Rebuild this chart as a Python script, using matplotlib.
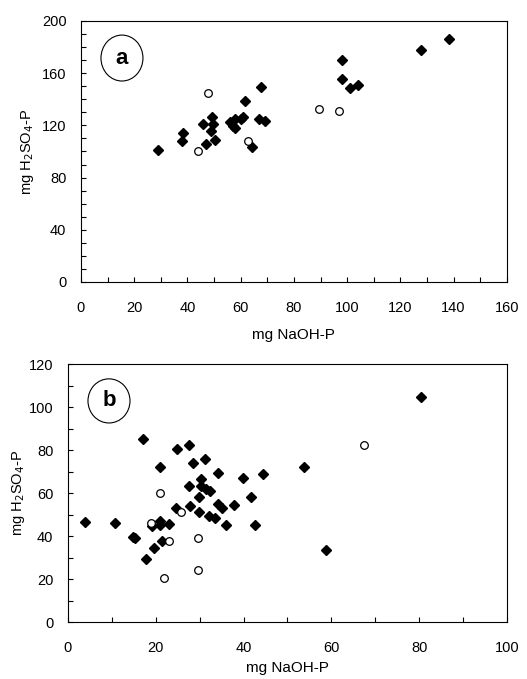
import matplotlib
matplotlib.use("Agg")
import matplotlib.pyplot as plt
from matplotlib.patches import Ellipse
from matplotlib.ticker import MultipleLocator

plt.rcParams['font.family'] = ['Liberation Sans', 'DejaVu Sans']

# panel a - NaOH-P vs H2SO4-P
a_fill_x = [29.0, 38.3, 37.9, 45.8, 46.8, 49.3, 49.5, 48.9, 50.5, 56.0, 57.0, 57.8,
            58.0, 60.0, 61.0, 61.6, 67.7, 66.9, 69.0, 64.1,
            98.1, 98.1, 101.1, 103.9, 127.7, 138.2]
a_fill_y = [101.4, 114.4, 107.8, 120.8, 105.7, 126.2, 120.8, 115.5, 108.8, 122.4, 119.8, 118.0,
            124.7, 125.2, 126.2, 138.7, 149.4, 125.2, 123.6, 103.2,
            170.1, 155.6, 148.9, 151.0, 177.5, 186.2]
a_open_x = [47.7, 43.9, 62.6, 89.5, 97.0]
a_open_y = [144.8, 100.4, 108.0, 132.3, 131.3]

# panel b
b_fill_x = [3.9, 10.8, 14.7, 15.3, 17.2, 17.7, 19.5, 19.1, 21.0, 21.0, 21.0, 21.5, 22.9,
            24.7, 24.8, 27.5, 27.5, 27.8, 28.4, 29.8, 29.8, 30.3, 30.3, 31.3, 31.5, 32.3,
            32.2, 33.5, 34.2, 34.2, 35.0, 36.1, 37.9, 39.8, 41.7, 42.7, 44.5, 53.8, 58.7, 80.4]
b_fill_y = [46.4, 45.9, 39.7, 38.9, 85.3, 29.3, 34.3, 44.7, 72.1, 47.1, 45.0, 37.7, 45.6,
            52.9, 80.3, 82.3, 63.3, 54.0, 74.0, 51.0, 58.0, 66.4, 63.4, 76.0, 61.8, 61.1,
            49.5, 48.2, 69.3, 54.9, 52.9, 45.3, 54.3, 66.8, 58.0, 45.3, 68.8, 72.1, 33.6, 104.5]
b_open_x = [20.9, 19.0, 22.9, 25.8, 21.9, 29.7, 29.7, 67.4]
b_open_y = [60.2, 46.2, 37.8, 51.2, 20.5, 38.9, 24.3, 82.5]


def panel(ax, fx, fy, ox, oy, xmax, ymax, xmaj, ymaj, letter, ell):
    ax.plot(fx, fy, 'D', color='black', ms=4.8, ls='none')
    ax.plot(ox, oy, 'o', mfc='white', mec='black', mew=0.9, ms=5.5, ls='none')
    ax.set_xlim(0, xmax)
    ax.set_ylim(0, ymax)
    ax.xaxis.set_major_locator(MultipleLocator(xmaj))
    ax.xaxis.set_minor_locator(MultipleLocator(10))
    ax.yaxis.set_major_locator(MultipleLocator(ymaj))
    ax.yaxis.set_minor_locator(MultipleLocator(10))
    ax.tick_params(which='both', direction='in', length=3.5, width=0.8, labelsize=10.5)
    ax.tick_params(axis='x', pad=14)
    ax.tick_params(axis='y', pad=10.5)
    e = Ellipse(ell[:2], ell[2], ell[3], transform=ax.transAxes,
                fc='white', ec='black', lw=0.8)
    ax.add_patch(e)
    ax.text(ell[0], ell[1], letter, transform=ax.transAxes, fontsize=16,
            fontweight='bold', ha='center', va='center')


fig = plt.figure(figsize=(5.27, 6.79), dpi=100)
ax1 = fig.add_axes([0.1537, 0.5847, 0.808, 0.3844])
ax2 = fig.add_axes([0.129, 0.0839, 0.833, 0.38])

panel(ax1, a_fill_x, a_fill_y, a_open_x, a_open_y, 160, 200, 20, 40, 'a',
      (0.0962, 0.858, 0.0986, 0.176))
panel(ax2, b_fill_x, b_fill_y, b_open_x, b_open_y, 100, 120, 20, 20, 'b',
      (0.0934, 0.857, 0.0957, 0.171))

ax1.set_xlabel('mg NaOH-P', fontsize=11, labelpad=9)
ax2.set_xlabel('mg NaOH-P', fontsize=11, labelpad=4)
ax1.set_ylabel('mg H$_2$SO$_4$-P', fontsize=10.5, labelpad=4)
ax2.set_ylabel('mg H$_2$SO$_4$-P', fontsize=10.5, labelpad=1)

fig.savefig('out.png', dpi=100)
